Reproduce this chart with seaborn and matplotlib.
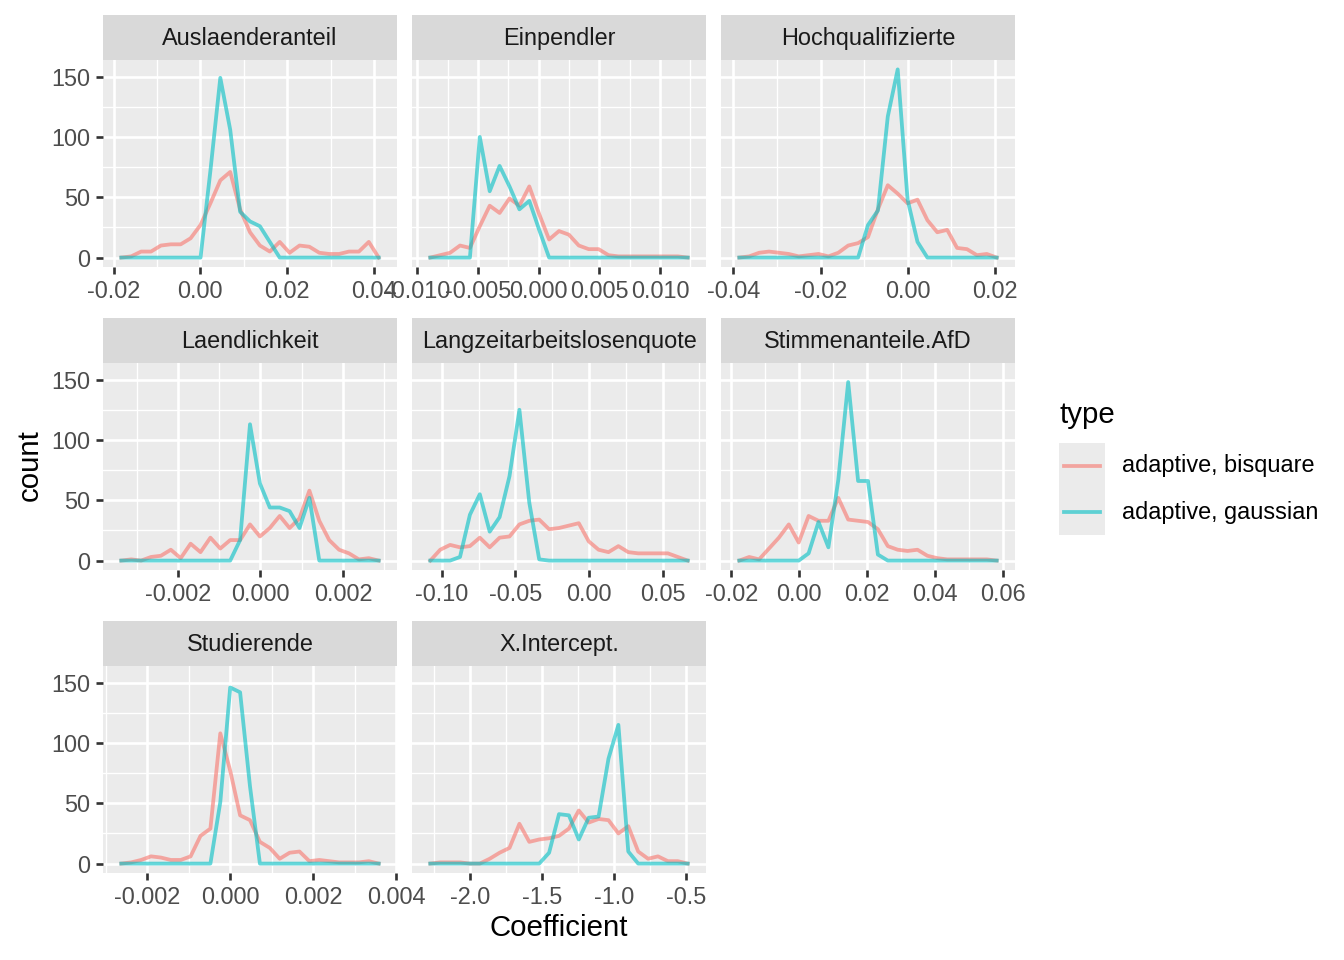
import numpy as np
import pandas as pd
import matplotlib
matplotlib.use("Agg")
import matplotlib.pyplot as plt
import seaborn as sns
from matplotlib.patches import Rectangle
from matplotlib.lines import Line2D

# ---------------- data ----------------
facets = ["Auslaenderanteil", "Einpendler", "Hochqualifizierte", "Laendlichkeit",
          "Langzeitarbeitslosenquote", "Stimmenanteile.AfD", "Studierende", "X.Intercept."]
types = ["adaptive, bisquare", "adaptive, gaussian"]

# centre of first and last (padded) frequency-polygon point per facet
bin_first = [-0.0182, -0.00893, -0.03862, -0.003375, -0.1079, -0.01764, -0.002628, -2.2765]
bin_last = [0.0411, 0.01228, 0.02039, 0.002868, 0.0671, 0.0582, 0.003578, -0.4916]

bisq_auslaender = [0, 1, 5, 5, 10, 11, 11, 16, 27, 45, 64, 71, 40, 21, 10, 5, 13, 4, 10, 9, 4, 3, 3, 5, 5, 13, 0]
gaus_auslaender = [0, 0, 0, 0, 0, 0, 0, 0, 0, 72, 149, 106, 38, 30, 26, 13, 0, 0, 0, 0, 0, 0, 0, 0, 0, 0, 0]
bisq_einpendler = [0, 2, 4, 10, 8, 26, 43, 37, 49, 43, 59, 36, 15, 22, 19, 10, 7, 7, 2, 1, 1, 1, 1, 1, 1, 1, 0]
gaus_einpendler = [0, 0, 0, 0, 0, 100, 55, 76, 59, 40, 47, 23, 0, 0, 0, 0, 0, 0, 0, 0, 0, 0, 0, 0, 0, 0, 0]
bisq_hochqual = [0, 1, 4, 5, 4, 3, 1, 2, 3, 1, 4, 10, 12, 17, 40, 60, 53, 45, 48, 31, 21, 23, 8, 7, 2, 3, 0]
gaus_hochqual = [0, 0, 0, 0, 0, 0, 0, 0, 0, 0, 0, 0, 0, 27, 39, 117, 156, 48, 13, 0, 0, 0, 0, 0, 0, 0, 0]
bisq_laendlich = [0, 1, 0, 3, 4, 9, 2, 14, 7, 19, 10, 17, 17, 30, 20, 27, 37, 27, 35, 58, 33, 17, 9, 6, 1, 2, 0]
gaus_laendlich = [0, 0, 0, 0, 0, 0, 0, 0, 0, 0, 0, 0, 17, 113, 64, 44, 44, 41, 27, 52, 0, 0, 0, 0, 0, 0, 0]
bisq_langzeit = [0, 9, 13, 11, 12, 19, 11, 19, 20, 30, 33, 34, 26, 27, 29, 31, 16, 9, 7, 12, 7, 6, 6, 6, 6, 3, 0]
gaus_langzeit = [0, 0, 0, 3, 38, 55, 24, 36, 70, 125, 48, 1, 0, 0, 0, 0, 0, 0, 0, 0, 0, 0, 0, 0, 0, 0, 0]
bisq_afd = [0, 3, 1, 10, 19, 30, 15, 37, 33, 33, 52, 34, 33, 32, 26, 12, 9, 8, 9, 4, 2, 1, 1, 1, 1, 1, 0]
gaus_afd = [0, 0, 0, 0, 0, 0, 0, 6, 32, 11, 67, 148, 66, 66, 5, 0, 0, 0, 0, 0, 0, 0, 0, 0, 0, 0, 0]
bisq_studierende = [0, 1, 3, 6, 5, 3, 3, 6, 23, 29, 108, 77, 40, 36, 18, 13, 4, 9, 10, 2, 3, 2, 1, 1, 1, 2, 0]
gaus_studierende = [0, 0, 0, 0, 0, 0, 0, 0, 0, 0, 51, 146, 142, 64, 0, 0, 0, 0, 0, 0, 0, 0, 0, 0, 0, 0, 0]
bisq_intercept = [0, 1, 1, 1, 0, 0, 4, 9, 13, 33, 18, 20, 21, 23, 29, 44, 34, 37, 36, 25, 31, 10, 4, 6, 2, 2, 0]
gaus_intercept = [0, 0, 0, 0, 0, 0, 0, 0, 0, 0, 0, 0, 9, 41, 40, 20, 38, 39, 87, 115, 10, 0, 0, 0, 0, 0, 0]

bisq_all = [bisq_auslaender, bisq_einpendler, bisq_hochqual, bisq_laendlich,
            bisq_langzeit, bisq_afd, bisq_studierende, bisq_intercept]
gaus_all = [gaus_auslaender, gaus_einpendler, gaus_hochqual, gaus_laendlich,
            gaus_langzeit, gaus_afd, gaus_studierende, gaus_intercept]

# x-axis breaks per facet
x_breaks = [
    [-0.02, 0.00, 0.02, 0.04],
    [-0.010, -0.005, 0.000, 0.005, 0.010],
    [-0.04, -0.02, 0.00, 0.02],
    [-0.002, 0.000, 0.002],
    [-0.10, -0.05, 0.00, 0.05],
    [-0.02, 0.00, 0.02, 0.04, 0.06],
    [-0.002, 0.000, 0.002, 0.004],
    [-2.0, -1.5, -1.0, -0.5],
]
x_decimals = [2, 3, 2, 3, 2, 2, 3, 1]
y_breaks = [0, 50, 100, 150]

rows = []
for f, lo, hi, b, g in zip(facets, bin_first, bin_last, bisq_all, gaus_all):
    centers = np.linspace(lo, hi, len(b))
    for t, vals in zip(types, [b, g]):
        for xv, cv in zip(centers, vals):
            rows.append((f, t, xv, cv))
df = pd.DataFrame(rows, columns=["facet", "type", "Coefficient", "count"])

# ---------------- style ----------------
plt.rcParams["font.family"] = ["Liberation Sans", "DejaVu Sans"]
plt.rcParams["axes.unicode_minus"] = False

W, H = 1344, 960
fig = plt.figure(figsize=(7, 5), dpi=192)
fig.patch.set_facecolor("white")

palette = ["#F8766D", "#00BFC4"]
col_left = [103, 412, 721]
panel_top = [60, 363, 666]
pw, ph, sh = 294, 207, 45

ymax = df["count"].max()
ylim = (-0.05 * ymax, 1.05 * ymax)

for i, f in enumerate(facets):
    r, c = divmod(i, 3)
    l = col_left[c]
    t = panel_top[r]
    ax = fig.add_axes([l / W, 1 - (t + ph) / H, pw / W, ph / H])
    ax.set_facecolor("#EBEBEB")
    for s in ax.spines.values():
        s.set_visible(False)
    sub = df[df["facet"] == f]
    sns.lineplot(data=sub, x="Coefficient", y="count", hue="type", hue_order=types,
                 palette=palette, alpha=0.6, linewidth=1.42, ax=ax, legend=False,
                 estimator=None, sort=False)
    br = x_breaks[i]
    step = br[1] - br[0]
    minors = [br[0] - step / 2] + [v + step / 2 for v in br]
    ax.set_xticks(br)
    ax.set_xticklabels([f"{v:.{x_decimals[i]}f}" for v in br])
    ax.set_xticks(minors, minor=True)
    ax.set_yticks(y_breaks)
    ax.set_yticklabels([str(v) for v in y_breaks])
    ax.set_yticks([25, 75, 125], minor=True)
    # limits after ticks (ticks can widen the view)
    n = len(bisq_all[i])
    w = (bin_last[i] - bin_first[i]) / (n - 1)
    a, b = bin_first[i] - w / 2, bin_last[i] + w / 2
    ex = 0.05 * (b - a)
    ax.set_xlim(a - ex, b + ex)
    ax.set_ylim(*ylim)
    ax.set_axisbelow(True)
    ax.grid(which="major", color="white", linewidth=1.0)
    ax.grid(which="minor", color="white", linewidth=0.5)
    ax.tick_params(which="major", length=2.75, width=1.0, color="#333333",
                   labelsize=8.8, labelcolor="#4D4D4D", pad=2.2)
    ax.tick_params(which="minor", length=0)
    if c != 0:
        ax.tick_params(axis="y", left=False, labelleft=False)
    ax.set_xlabel("")
    ax.set_ylabel("")
    # strip
    sax = fig.add_axes([l / W, 1 - t / H, pw / W, sh / H])
    sax.set_facecolor("#D9D9D9")
    for s in sax.spines.values():
        s.set_visible(False)
    sax.set_xticks([])
    sax.set_yticks([])
    sax.text(0.5, 0.47, f, ha="center", va="center", fontsize=8.8, color="#1A1A1A",
             transform=sax.transAxes)

fig.text(559 / W, 1 - 928 / H, "Coefficient", ha="center", va="center", fontsize=11, color="black")
fig.text(30 / W, 1 - 465 / H, "count", ha="center", va="center", rotation=90, fontsize=11, color="black")

# legend
fig.text(1059 / W, 1 - 415 / H, "type", ha="left", va="center", fontsize=11, color="black")
fig.add_artist(Rectangle((1059 / W, 1 - 535 / H), 46 / W, 92 / H, transform=fig.transFigure,
                         facecolor="#EBEBEB", edgecolor="none"))
for k, (tname, col) in enumerate(zip(types, palette)):
    yy = 1 - (466 + 46 * k) / H
    fig.add_artist(Line2D([1064 / W, 1100 / W], [yy, yy], transform=fig.transFigure,
                          color=col, alpha=0.6, linewidth=1.42))
    fig.text(1122 / W, yy, tname, ha="left", va="center", fontsize=8.8, color="black")

fig.savefig("out.png", dpi=192)
